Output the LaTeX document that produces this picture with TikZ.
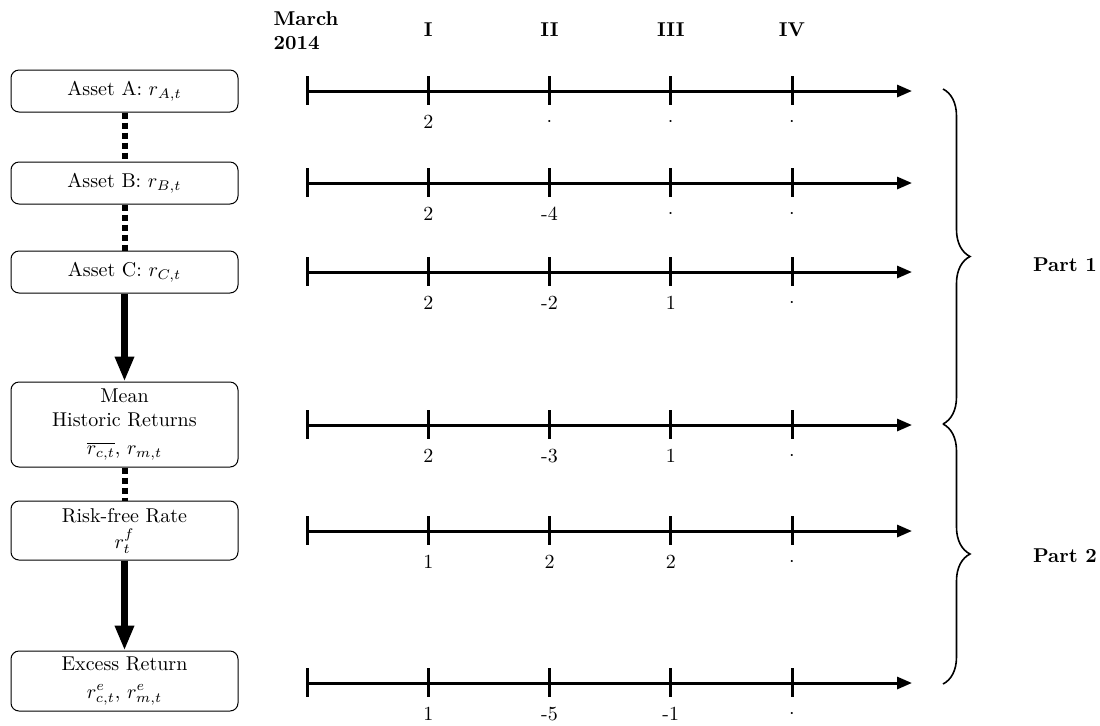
\documentclass[tikz,border=0pt]{standalone}
\usetikzlibrary{arrows.meta,decorations.pathreplacing}
\newcommand\mydot{$\cdot$}
\begin{document}
\begin{tikzpicture}[x=0.5pt,y=-0.5pt,
  box/.style={draw, rounded corners=4pt, line width=0.5pt, text width=107.5pt,
    inner xsep=3pt, inner ysep=2pt, align=center, minimum height=21pt},
  dotconn/.style={line width=3pt, dotted},
  bigarrow/.style={line width=3.2pt, -{Triangle[length=12.5pt,width=9pt]}, shorten >=0pt},
  tl/.style={line width=1.5pt, -{Triangle[length=7.5pt,width=6pt]}},
  tick/.style={line width=1.5pt},
  val/.style={inner sep=0pt},
  hdr/.style={font=\bfseries, inner sep=0pt},
  bracestyle/.style={line width=0.8pt, decorate, decoration={brace, amplitude=13.5pt}}]
\useasboundingbox (0,0) rectangle (1100,725);

% boxes
\node[box] (A) at (124.5,91) {Asset A: $r_{A,t}$};
\node[box] (B) at (124.5,183) {Asset B: $r_{B,t}$};
\node[box] (C) at (124.5,272) {Asset C: $r_{C,t}$};
\node[box, minimum height=42.5pt] (M) at (124.5,424.5) {Mean\\Historic Returns\\[2pt]$\overline{r_{c,t}}$, $r_{m,t}$};
\node[box, minimum height=29.5pt] (R) at (124.5,530.5) {Risk-free Rate\\[1pt]$r^f_t$};
\node[box, minimum height=30pt] (E) at (124.5,681) {Excess Return\\[2pt]$r^e_{c,t}$, $r^e_{m,t}$};

% connectors
\draw[dotconn] (A) -- (B);
\draw[dotconn] (B) -- (C);
\draw[bigarrow] (C) -- (M);
\draw[dotconn] (M) -- (R);
\draw[bigarrow] (R) -- (E);

% header
\node[hdr, align=left] (march) at (306,31) {March\\2014};
\node[hdr] (hI) at (428.25,30) {I};
\node[hdr] (hII) at (549.5,30) {II};
\node[hdr] (hIII) at (670.75,30) {III};
\node[hdr] (hIV) at (792,30) {IV};

% timelines
\foreach \r/\y/\va/\vb/\vc/\vd in {
  A/91/2/\mydot/\mydot/\mydot,
  B/183/2/-4/\mydot/\mydot,
  C/272/2/-2/1/\mydot,
  M/425/2/-3/1/\mydot,
  R/531/1/2/2/\mydot,
  E/683/1/-5/-1/\mydot}{
  \coordinate (s\r) at (307,\y);
  \coordinate (e\r) at (912,\y);
  \draw[tl] (s\r) -- (e\r);
  \foreach \k in {0,1,2,3,4}{
    \coordinate (t\r\k) at (307+121.25*\k,\y);
    \draw[tick] (t\r\k) ++(0,-15) -- ++(0,29);
  }
  \foreach \k/\v in {1/\va,2/\vb,3/\vc,4/\vd}{
    \node[val] (v\r\k) at (307+121.25*\k,\y+31) {\v};
  }
}

% braces
\coordinate (b1t) at (943,89);
\coordinate (b1b) at (943,424);
\coordinate (b2t) at (943,424);
\coordinate (b2b) at (943,684);
\draw[bracestyle] (b1t) -- (b1b);
\draw[bracestyle] (b2t) -- (b2b);
\node[hdr] (p1) at (1065,265) {Part 1};
\node[hdr] (p2) at (1065,556) {Part 2};
\end{tikzpicture}
\end{document}
